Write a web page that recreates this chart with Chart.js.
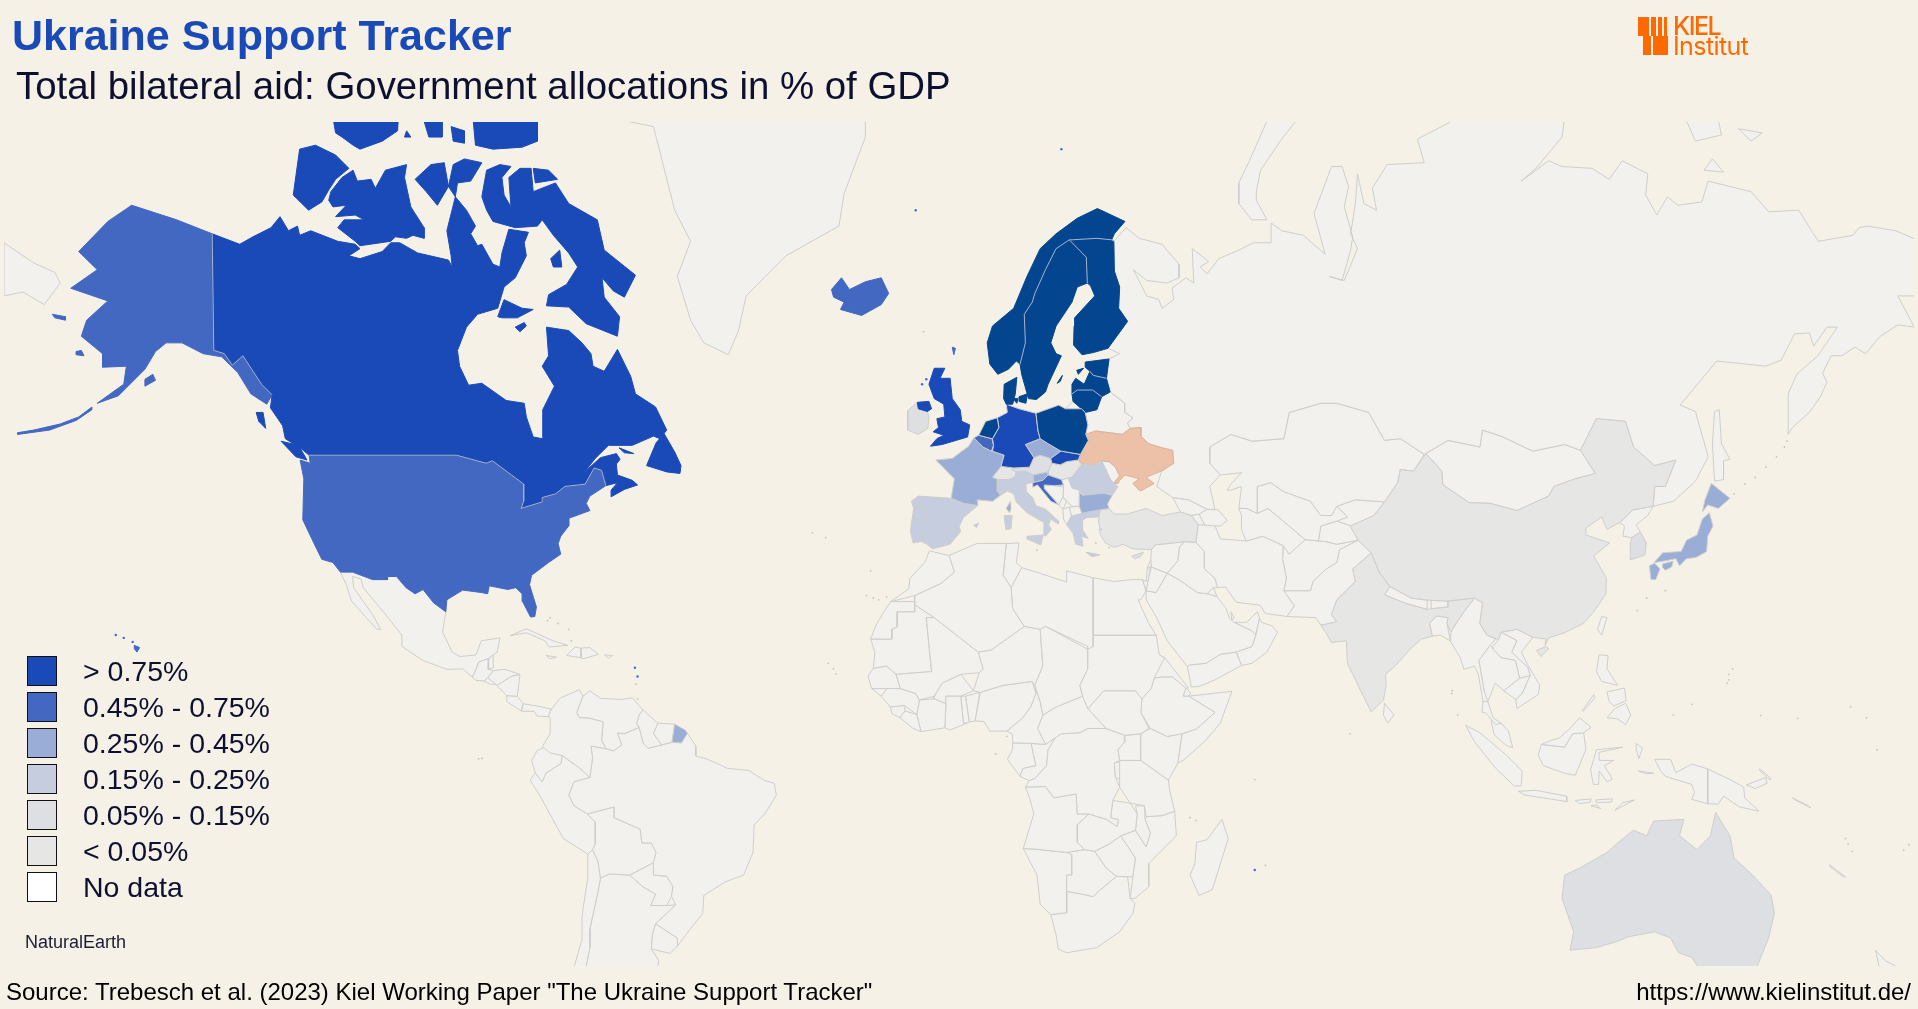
<!DOCTYPE html>
<html>
<head>
<meta charset="utf-8">
<title>Ukraine Support Tracker</title>
<script src="https://cdn.jsdelivr.net/npm/chart.js@4"></script>
<style>
  html, body { margin: 0; padding: 0; background: #f5f1e7; overflow: hidden; }
  #page { position: relative; width: 1918px; height: 1009px; font-family: "Liberation Sans", Arial, sans-serif; color: #0e1030; }
  #page div, #page span { position: absolute; white-space: nowrap; }
  canvas { position: absolute; left: 0; top: 0; }
  .swatch { width: 28px; height: 28px; border: 1px solid #111; box-sizing: content-box; }
  .bar { background: #ff6a00; }
</style>
</head>
<body>
<div id="page">
  <canvas id="map" width="1918" height="1009"></canvas>
  <div style="left:12px;top:11px;font-size:43px;font-weight:bold;color:#1a4ab8">Ukraine Support Tracker</div>
  <div style="left:16px:top:64px;left:16px;top:64px;font-size:38.4px;color:#0e1030">Total bilateral aid: Government allocations in % of GDP</div>
  <div class="bar" style="left:1638px;top:17px;width:11px;height:19px"></div>
  <div class="bar" style="left:1651px;top:17px;width:5px;height:19px"></div>
  <div class="bar" style="left:1658px;top:17px;width:4px;height:19px"></div>
  <div class="bar" style="left:1664px;top:17px;width:3px;height:19px"></div>
  <div class="bar" style="left:1643px;top:36px;width:8px;height:19px"></div>
  <div class="bar" style="left:1653px;top:36px;width:15px;height:19px"></div>
  <div style="left:1673px;top:12px;font:500 25px/28px Inter,sans-serif;letter-spacing:-1.5px;color:#ff6a00">KIEL</div>
  <div style="left:1673px;top:32px;font:400 25px/28px Inter,sans-serif;letter-spacing:-0.6px;color:#ff6a00">Institut</div>
  <div id="legend"></div>
  <div style="left:25px;top:932px;font-size:18px;color:#1c1c34">NaturalEarth</div>
  <div style="left:6px;top:978px;font-size:24px;color:#000">Source: Trebesch et al. (2023) Kiel Working Paper "The Ukraine Support Tracker"</div>
  <div style="right:7px;top:978px;font-size:24px;color:#000">https://www.kielinstitut.de/</div>
</div>
<script>
// legend classes
const binLabels = ["> 0.75%", "0.45% - 0.75%", "0.25% - 0.45%", "0.15% - 0.25%", "0.05% - 0.15%", "< 0.05%", "No data"];
const binColors = ["#1a4ab8", "#4268c2", "#9aadd6", "#c5cddf", "#dddfe3", "#e6e6e4", "#ffffff"];
const topShade = "#03468f";
const ukraineShade = "#edc0a8";
const landShade = "#f2f1ed";
const edgeGrey = "#cdcdcb";

// country outlines, lon,lat pairs
const canadaMain = [-141.3,69.5,-136.1,68.8,-133.6,69.3,-130.2,69.9,-128.5,70.6,-126.9,69.7,-125.2,70,-124.8,69.4,-122.7,69.7,-117.6,69,-114.3,68.8,-113.4,68.5,-115.5,68,-113.4,67.8,-109.2,68.3,-107.6,68.9,-105.9,68.9,-102.5,68.2,-96.7,67.7,-96,67.2,-96.2,68,-97,69.7,-95.4,71.8,-93.3,71,-91.6,70,-92.5,69.5,-91.2,68.7,-90.4,68.8,-88.3,67.4,-87,67.2,-86.6,68.2,-85.3,69.8,-81.6,69.6,-82.4,68.9,-82,68,-84.1,66.4,-86.2,65.7,-87.4,64,-91.2,63.5,-93.3,62.4,-95,60.3,-94.6,58.8,-92.9,56.9,-90.4,57.1,-85.8,55.3,-82.4,55,-82,53.5,-80.7,51.2,-79,51,-78.9,54.3,-76.7,56.8,-79,58.8,-77.8,59.8,-78.2,62.4,-74,62.1,-71.5,61,-69.8,60,-69.4,58.8,-67.3,58.3,-64.8,60.4,-62.3,57.8,-61.4,56,-57.6,54.6,-55.5,52,-56.8,51,-58,51.3,-62,50.2,-66.5,50.2,-69,48.6,-71,46.9,-68,48.7,-65,49.2,-64.3,48.5,-65,47.9,-64.8,46.5,-62,45.8,-61,45.2,-63.5,44.6,-66,43.6,-66,44.5,-64.8,45.5,-67,45.1,-67.8,47.1,-69.2,47.4,-70.9,45.3,-74.7,45,-76.5,44,-79,43.5,-79,42.9,-83,42,-82.5,43,-82.5,45.3,-84.8,46.5,-88.4,48.3,-89.6,48,-95.2,49,-123,49,-124.5,49.8,-127.5,51,-128,52.5,-130.3,54.5,-130,55.9,-132,57,-135.5,59.8,-137.5,58.9,-139,60,-141,60.3];
const baffin = [-89.5,71,-88.3,70.3,-84.1,69.9,-79.9,70,-79,70.4,-76.9,69.4,-74,68.2,-72.3,67.2,-74.4,65.9,-77.8,65.1,-78.2,64.2,-74,64.1,-70.7,62.7,-64.8,61.6,-64.4,63.3,-67.3,64.9,-67.7,66.4,-65.6,65.4,-63.5,64.9,-61.4,66.6,-67.3,68.4,-68.6,70.4,-74,71.4,-76.5,72.6,-80.7,72.1,-81.1,73.4,-83.2,73.4,-85.3,72.9,-84.9,71.2,-86.2,71.9,-86.6,72.9,-84.9,73.5,-87,73.6,-89.5,73.3,-90.4,71.8];
const bylot = [-80.7,73.4,-77.8,73.3,-76.1,72.8,-80.3,72.6];
const princeCharles = [-77.4,67.8,-75.7,68.4,-75.3,67.2,-76.9,67.2];
const victoria = [-119.3,71.6,-118.9,72.1,-116.8,72.9,-114.7,73.3,-113.9,72.7,-111.3,72.8,-110.5,72.3,-108.6,73.3,-104.6,73.6,-105,72.9,-103.8,71.2,-101.3,69.9,-101.3,69.2,-103.4,69.4,-104.6,69.2,-106.7,69.3,-107.6,69,-113.4,68.7,-114.3,69,-117.6,69.9,-116.4,70.4,-112.6,70.4,-114.3,70.7,-118,70.6,-116,71.3,-118.5,71.2];
const banks = [-124.8,74.4,-121.8,74.6,-118,74.1,-115.5,73.4,-118,72.8,-119.3,72.2,-120.6,71.5,-123.1,71,-126,71.9];
const melville = [-119.3,77,-105.9,77,-106.3,75.3,-109.2,74.8,-113.4,74.4,-114.7,74.6,-116.8,75,-118,75.2];
const byam = [-104.6,75.3,-103.8,75,-105,75];
const bathurst = [-102.9,77,-97.9,77,-97.9,75,-100.4,75];
const cornwallis = [-96.2,75.5,-93.7,75.3,-93.7,74.7,-95.8,74.8];
const devon = [-92.5,77,-79.9,77,-79.9,74.8,-82.8,74.5,-88.3,74.4,-91.6,74.6];
const princeWales = [-103,72.8,-100,73.6,-97.5,73.7,-96.7,72.4,-98.8,71.3,-100.9,72.1];
const somerset = [-95.8,73.6,-93.7,73.9,-90.4,73.7,-92.5,72.7,-95,72.6,-95.4,71.8,-96.7,72.4];
const southampton = [-87.4,63.3,-86.2,64.7,-82.8,64,-80.7,63.9,-83.7,63.2,-86.6,63.2];
const coats = [-84.1,62.4,-82.4,62.8,-82,62.5,-83.2,62];
const newfoundland = [-59.3,47.7,-55.5,46.9,-53,46.7,-52.8,47.7,-54,49.4,-56,51.6,-57.5,50.5];
const vancouverIs = [-128.3,50.7,-125,50.2,-123.4,48.4,-125.5,48.8];
const haida = [-133,54,-131.7,54,-131.2,52.2,-132.5,53];
const anticosti = [-64.5,49.9,-61.7,49.2,-63.5,49.3];
const lower48 = [-123,49,-95.2,49,-89.6,48,-88.4,48.3,-84.8,46.5,-82.5,45.3,-82.5,43,-83,42,-79,42.9,-79,43.5,-76.5,44,-74.7,45,-70.9,45.3,-69.2,47.4,-67.8,47.1,-67,45.1,-70,43.7,-70.7,42.7,-70,41.7,-74,40.6,-74,39.5,-75.5,38,-76,36.9,-75.5,35.3,-77.8,34,-81,32,-81.4,30.5,-80.1,26.8,-80.4,25.2,-81.2,25.1,-82.7,27.7,-82.8,29,-84,30,-85.5,29.7,-89,30.3,-89.3,29,-90.5,29.2,-94,29.6,-97,28,-97.2,26,-99.5,27.5,-101.5,29.7,-103,29,-104.7,30,-106.5,31.8,-108.2,31.8,-108.2,31.3,-111,31.3,-114.8,32.5,-117.1,32.5,-118.5,34,-120.6,34.5,-122,36.8,-124.2,40.4,-124,46,-124.7,48.4,-122.8,48];
const alaska = [-141.3,69.5,-148,70.4,-156.5,71.3,-161,70.3,-166.5,68.3,-163,67,-168,65.6,-161,64.6,-165,63,-166,61.6,-162,60,-162,58.7,-157.5,58.8,-158,57,-163,55,-159,55.8,-154,58.5,-152,60.2,-150,61,-147,61,-143,60,-139.5,59.7,-136.5,58.2,-134,56,-131,54.9,-130,55.9,-132,57,-135.5,59.8,-137.5,58.9,-139,60,-141,60.3];
const aleutians = [-164,54.6,-166.5,53.5,-170,52.7,-175,52,-178,51.7,-178,51.5,-172,52,-167,53.1,-164,54.3];
const kodiak = [-154,57.5,-152.5,58,-152,57.4,-154,56.8];
const stLawrence = [-171.5,63.5,-169,63.3,-169,63,-171,63.2];
const nunivak = [-167,60.2,-166,60.3,-165.5,59.8,-167,59.9];
const hawaii = [-156,20.2,-155,19.8,-155.5,19,-156,19.6];
const mexico = [-117.1,32.5,-114.8,32.5,-111,31.3,-108.2,31.3,-108.2,31.8,-106.5,31.8,-104.7,30,-103,29,-101.5,29.7,-99.5,27.5,-97.2,26,-97.8,22.5,-96,19,-94.5,18.2,-91.5,18.5,-90.5,21,-87,21.5,-87.5,19,-88.3,18.5,-89.1,17.9,-91,17.2,-91.5,16,-92.2,14.5,-94,16,-97,15.9,-101.5,17.5,-105.5,20,-105.5,22,-109,26,-112.8,30,-113.2,31.4,-114.8,31.8,-114.6,30,-111,25.5,-109.5,23,-110.2,23,-112.2,25,-115,27.8,-116,30.5];
const guatemala = [-92.2,14.5,-91.5,16,-91,17.2,-89.1,17.9,-89.2,15.9,-88.2,15.7,-89.3,14.4,-90,13.8,-91.5,13.9];
const belize = [-89.1,17.9,-88.3,18.5,-88.2,16.2,-89.2,15.9];
const honduras = [-88.2,15.7,-86,15.9,-83.2,15,-84.7,14.7,-87.5,13,-89.3,14.4];
const salvador = [-90,13.8,-89.3,14.4,-87.7,13.9,-87.8,13.2,-88.8,13.2];
const nicaragua = [-83.2,15,-83.7,11,-85.7,11.1,-87.6,13,-84.7,14.7];
const costaRica = [-83.7,11,-82.6,9.6,-83,8.3,-85.7,10,-85.7,11.1];
const panama = [-82.9,8.2,-82.6,9.6,-80,9.2,-77.3,8.6,-77.9,7.2,-80,7.3,-80.5,8.2];
const cuba = [-85,21.9,-82,23.1,-77,21,-74.2,20.2,-77.7,19.9,-78.5,21,-82,22.4];
const haiti = [-74.4,18.4,-72.8,19.9,-71.7,19.7,-71.7,18,-73,18.2];
const dominicana = [-71.7,19.7,-70,19.8,-68.4,18.6,-71.3,17.8,-71.7,18];
const jamaica = [-78.3,18.4,-76.3,18.1,-77.5,17.8];
const puertoRico = [-67.2,18.5,-65.7,18.4,-66.5,17.9];
const colombia = [-77.3,8.6,-75.5,10.7,-72,12.2,-71.3,11,-72.5,8,-72,7,-70,6.9,-67.5,6.2,-67.8,2.8,-67,1.2,-69.8,1.7,-69.5,-0.5,-70,-4.2,-72,-2.4,-75.2,-0.1,-77.5,0.4,-79,1.6,-77.5,4,-77.5,7,-77.9,7.2];
const venezuela = [-71.3,11,-70,12,-68,10.6,-64,10.4,-62,10.7,-60,8.5,-60.7,7.5,-61.2,5.9,-60.7,5.2,-63.5,4,-64.8,4.2,-64,1.9,-65.5,0.8,-67,1.2,-67.8,2.8,-67.5,6.2,-70,6.9,-72,7,-72.5,8];
const guyana = [-60,8.5,-57.2,6,-58,4,-56.5,1.9,-59,1.3,-59.9,2.2,-60.7,5.2,-61.2,5.9,-60.7,7.5];
const suriname = [-57.2,6,-54,5.8,-54.5,2.4,-56.5,1.9,-58,4];
const frenchGuiana = [-54,5.8,-52,4.7,-51.6,4.1,-52.7,2.3,-54.5,2.4];
const ecuador = [-78.8,1.4,-75.2,-0.1,-75.5,-1.6,-78.3,-3.4,-79,-5,-80.3,-3.4,-81,-1,-80,0.8];
const peru = [-81.3,-4.7,-80.3,-3.4,-79,-5,-78.3,-3.4,-75.5,-1.6,-75.2,-0.1,-72,-2.4,-70,-4.2,-73,-5,-74,-7.5,-73,-9.5,-70.5,-11,-69,-12.5,-69,-16.5,-69.5,-17.5,-70.4,-18.3,-75,-15.5,-77,-12,-79.5,-7.5];
const brazil = [-51.6,4.1,-50,1.7,-50,-0.2,-48,-0.7,-44,-2.5,-40,-2.9,-37,-4.8,-35.2,-5.3,-34.8,-7.5,-37,-11,-39,-13,-39.2,-18,-41,-22,-44.5,-23.2,-48.5,-25.5,-48.7,-28.5,-52,-32.1,-53.4,-33.7,-53.5,-32.5,-57.6,-30.2,-53.8,-27.1,-54.6,-25.6,-54.3,-24,-55.5,-22.2,-58,-22,-58,-19.8,-57.5,-18,-58.4,-16.3,-60.2,-16.3,-60.5,-13.8,-65.4,-11.7,-65.4,-9.7,-70.5,-11,-73,-9.5,-74,-7.5,-73,-5,-70,-4.2,-69.5,-0.5,-69.8,1.7,-67,1.2,-65.5,0.8,-64,1.9,-64.8,4.2,-63.5,4,-60.7,5.2,-59.9,2.2,-59,1.3,-56.5,1.9,-54.5,2.4,-52.7,2.3];
const bolivia = [-69.5,-17.5,-69,-16.5,-69,-12.5,-70.5,-11,-65.4,-9.7,-65.4,-11.7,-60.5,-13.8,-60.2,-16.3,-58.4,-16.3,-57.5,-18,-58,-19.8,-62.5,-22,-66.3,-21.8,-68,-22.5,-68.5,-19.5];
const paraguay = [-58,-19.8,-58,-22,-55.5,-22.2,-54.3,-24,-54.6,-25.6,-55.5,-27.2,-58.5,-27.2,-57.6,-25.3,-60,-24,-62.5,-22];
const uruguay = [-57.6,-30.2,-53.5,-32.5,-53.4,-33.7,-54.9,-34.9,-58.4,-34.2,-58.2,-32];
const chile = [-70.4,-18.3,-69.5,-17.5,-68.5,-19.5,-68,-22.5,-68.5,-25,-70,-31,-70,-34,-71,-38,-74,-38,-73,-37,-71.6,-33,-71.5,-29,-70.5,-23];
const argentina = [-68,-22.5,-66.3,-21.8,-62.5,-22,-60,-24,-57.6,-25.3,-58.5,-27.2,-55.5,-27.2,-53.8,-27.1,-57.6,-30.2,-58.2,-32,-58.4,-34.2,-57,-36,-57.5,-38,-71,-38,-70,-34,-70,-31,-68.5,-25];
const greenland = [-73,80,-68,76,-58,75.5,-54,71,-51,69,-53.5,66.5,-51,63,-48.5,61,-43.9,59.9,-42,62,-40.5,65,-33,68,-23,70,-22,72,-18,75,-18,80];
const iceland = [-24.4,65.5,-22.5,66.4,-21,65.5,-18,66.1,-15,66.4,-13.6,65.2,-15,64.3,-18.7,63.4,-22.7,63.9,-22,64.5,-24,64.9];
const britain = [-5.7,50.1,-3.5,50.3,1.3,51.2,1.7,52.6,0.2,53,-0.1,54.3,-1.6,55.5,-2,57.6,-3.9,57.6,-3,58.6,-5,58.6,-6,57,-5,55.5,-3.2,54.9,-3,53.5,-4.5,53.3,-4.2,52.3,-5.2,51.8,-3.2,51.4,-4.5,51];
const ulster = [-8.2,55.1,-6,55.2,-5.5,54.4,-6.3,54.1,-8,54.4];
const shetland = [-1.6,60.6,-1,60.5,-1.3,59.9];
const ireland = [-10,52,-8,51.5,-6.2,52.2,-6,53.5,-6.3,54.1,-8,54.4,-8.2,55.1,-10,54.2];
const france = [-1.8,43.4,-1.2,46,-4.7,48.4,-1.6,48.6,1.5,50.1,2.5,51.1,4.2,50,5.8,49.5,6,49.5,8.2,49,7.6,47.6,6,46.2,7,45.9,6.9,44.4,7.5,43.8,6,43,3.1,43.2,3.2,42.4,0.7,42.7];
const corsica = [9.4,43,9.5,42,9.2,41.4,8.6,42];
const spain = [-9.3,43,-8,43.7,-1.8,43.4,0.7,42.7,3.2,42.4,0.5,40.7,-0.3,39.4,0,38.7,-2,36.8,-5.3,36.1,-6.4,36.8,-7.4,37.2,-7,39.6,-6.4,41.7,-8.2,42.1,-8.9,42];
const mallorca = [2.4,39.6,3.4,39.9,3,39.3];
const portugal = [-8.9,42,-8.2,42.1,-6.4,41.7,-7,39.6,-7.4,37.2,-9,37,-9.5,38.8];
const belgium = [2.5,51.1,3.4,51.4,5.9,51,6.2,50.2,5.8,49.5,4.2,50];
const netherlands = [3.4,51.4,4.7,53,6.9,53.4,7.2,52.3,6,51,5.9,51];
const germany = [6,51,7.2,52.3,6.9,53.4,8.8,54,8.6,54.9,11,54.4,14.2,53.9,14.6,51.9,15,51,12.2,50.3,13.8,48.7,13,47.5,10,47.4,7.6,47.6,8.2,49,6,49.5,6.2,50.2];
const jutland = [8.1,55.5,8.2,57,10.6,57.7,10.3,56,9.8,54.9,8.6,54.9];
const zealand = [11,55.7,12.6,56,12.3,55,11,55.2];
const funen = [9.8,55.5,10.8,55.5,10.6,55];
const norway = [7,58,5.5,59,5,61,6,62.5,10,64,12.5,66.5,15,68.5,18,69.5,22,70.5,25.8,71.1,31,70.3,29,69.5,28.5,69.1,25.7,69.2,21,69.1,20.5,69.1,18,68.5,16,67,14,65.2,13.5,64.5,12,63.5,12.2,61,11.2,59,10.5,59.3,9,58.5];
const sweden = [11.2,59,12.2,61,12,63.5,13.5,64.5,14,65.2,16,67,18,68.5,20.5,69.1,23.7,67.9,23.9,66,22,65.7,21,64.5,18,62.5,17,61,18,60,19,59.8,16.5,57,16,56.2,14.3,55.4,12.8,55.5,11.5,58];
const gotland = [18.2,57.1,19.2,57.9,18.8,57.3];
const finland = [20.5,69.1,21,69.1,25.7,69.2,28.5,69.1,28.9,69,29,66.9,30,65.7,29.8,64,31.5,62.9,27.8,60.5,25,60.1,22.9,59.9,21.3,60.8,21.4,62.5,21.5,63.2,25.3,65,24.5,65.8,23.9,66,23.7,67.9];
const estonia = [23.5,59.2,28,59.5,27.5,57.6,25,57.9,24.4,58.3,23.5,58.7];
const saaremaa = [21.9,58.4,23.2,58.6,22.2,58];
const latvia = [21,57,21.7,57.6,23.3,57,24.4,58.3,25,57.9,27.5,57.6,28.2,56.2,26.6,55.7,24.9,56.4,22,56.4,21,56];
const lithuania = [21,56,22,56.4,24.9,56.4,26.6,55.7,25.7,54.3,23.5,54,22.8,54.4,21.2,55.2];
const poland = [14.2,53.9,18.5,54.8,19.8,54.4,22.8,54.4,23.5,54,24,52.6,23.6,51.5,24.1,50.8,22.6,49.1,19,49.5,18.9,49.5,16.5,50.4,15,51,14.6,51.9];
const czechia = [12.2,50.3,15,51,16.5,50.4,18.9,49.5,17,48.6,15,49,13.8,48.7];
const slovakia = [17,48.6,18.9,49.5,19,49.5,22.6,49.1,22.2,48.4,20,48.2,18.8,47.8,17.2,48];
const austria = [10,47.4,13,47.5,13.8,48.7,15,49,17,48.6,17.2,48,16.5,46.9,13.7,46.5,12.2,47,10.5,46.9,9.6,47.2];
const switzerland = [7.6,47.6,9.6,47.5,10.5,46.9,10.2,46.2,9,45.9,7,45.9,6,46.2];
const italy = [7,45.9,9,45.9,10.2,46.2,10.5,46.9,12.2,47,13.7,46.5,13.8,45.6,12.3,45.3,12.4,44.3,13.6,43.5,14.2,42.4,16,41.9,18.5,40.2,18.4,39.8,17,40.5,16.6,39.7,17.1,39,16,38,15.7,38.2,15.7,40,12.5,41.4,10.5,42.9,10,44,8.8,44.4,7.5,43.8,6.9,44.4];
const sicily = [12.5,38,15.6,38.2,15.1,36.7,12.5,37.6];
const sardinia = [8.2,41,9.7,41,9.5,39.1,8.5,39];
const slovenia = [13.7,46.5,16.5,46.9,16.5,46.5,15.5,45.8,13.6,45.5,13.8,45.6];
const croatia = [13.6,45.5,15.5,45.8,16.5,46.5,19,45.9,19.4,45.2,17.7,45.1,15.8,45.2,15.8,44.7,18.5,42.5,17,43,14.5,45.2,13.6,44.9];
const hungary = [16.5,46.9,17.2,48,18.8,47.8,20,48.2,22.2,48.4,22.9,47.9,21,46.2,19,45.9,16.5,46.5];
const romania = [22.9,47.9,24.9,47.7,26.6,48.3,28.2,46,28.9,45.4,29.7,45,28.6,43.8,27,44.1,23,43.8,22.5,44.5,21,44.8,20.3,46.1,21,46.2];
const bulgaria = [22.4,44.2,23,43.8,27,44.1,28.6,43.8,27.7,42.6,28,42,26.3,41.8,24,41.5,22.9,41.3,22.4,42.3];
const moldova = [26.6,48.3,28,48.2,29.2,47.5,30,46.4,28.9,45.4,28.2,46];
const ukraine = [22.2,48.4,22.6,49.1,24.1,50.8,23.6,51.5,25.5,51.9,30.5,51.5,32,52.2,34,52.3,34,51.3,35.5,50.4,38,49.9,40,49.6,40.2,48,38.2,47.1,35,46.2,36.5,45.4,35.5,45,34,44.4,33.5,44.6,32.5,45.4,33.7,46,31,46.5,30,45.8,29.7,45.4,28.9,45.4,30,46.4,29.2,47.5,28,48.2,26.6,48.3,24.9,47.7,22.9,47.9];
const belarus = [23.6,51.5,24,52.6,23.5,54,25.7,54.3,26.6,55.7,28.2,56.2,31,55,31,54,32.5,53.4,31.5,52.8,32,52.2,30.5,51.5,25.5,51.9];
const bosnia = [15.8,45.2,17.7,45.1,19.4,44.9,19.3,43.6,18.5,42.5,15.8,44.7];
const serbia = [19,45.9,20.3,46.1,21,44.8,22.5,44.5,22.4,42.3,21,42.3,20,43,19.3,43.6,19.4,45.2];
const montenegro = [18.5,42.5,19.3,43.6,20,43,19.3,41.9];
const albania = [19.3,41.9,20.5,42.2,20.9,40.9,20,39.7,19.4,40.5];
const macedonia = [20.5,42.2,22.4,42.3,22.9,41.3,20.9,40.9];
const greece = [20,39.7,20.9,40.9,22.9,41.3,24,41.5,26.3,41.8,26,40.8,23.8,40.7,22.9,40.3,23,39,24,37.7,22.8,38,23.1,36.5,21.7,36.8,21.2,38.4];
const crete = [23.6,35.6,26.3,35.2,24.8,34.9];
const turkey = [26,40.2,26.3,41.8,28,42,29,41.2,31.4,41.2,35,42,38,41,41.5,41.5,43.5,41,44.8,39.7,44.4,37.1,42.3,37.2,36.7,36.7,36,36,32.5,36.1,30.6,36.8,29,36.3,27.3,37,26.3,38.3,26.2,39.5];
const cyprus = [32.3,35,34.5,35.6,33.9,34.9,32.8,34.6];
const russia = [28,59.5,30,60,27.8,60.5,31.5,62.9,29.8,64,30,65.7,29,66.9,28.9,69,31.2,69.9,33.7,69.2,38,68.8,41.2,67.4,41.2,66.4,38.9,66,35.1,66.2,32.6,67,35.1,65,37.4,64.7,38,64,40.2,64.7,39.9,65.6,42.5,66.4,44,66,43.7,68.5,46.8,67.6,45.2,67.2,46.5,66.7,48.7,67.8,52.5,68.4,55.3,68.9,58.6,68.9,58.6,70.2,60.6,69.7,64.7,69.4,68.8,68.1,66.7,70.8,70,73.5,72,73.5,73.2,72.4,72.4,71.2,74,69.3,73.6,68.4,72,66.2,69.6,66.5,72.4,66.2,74.9,68.5,73.6,69.5,74.5,71.4,74.9,73.1,76.1,71.4,78.5,71,77.7,72.3,80.5,73.6,87.5,73.7,86.2,74.9,92.3,75.7,92,78,114,78,113.9,75.7,113.5,75,108.6,73.4,105.8,72.7,111,73.8,113.5,73.5,119.2,73.4,122.4,72.8,124.9,73.8,129.7,73.1,129.3,71.9,131.4,70.7,133.4,71.8,135.4,71.3,139.9,71.5,141.1,72.7,149.2,72.1,152.5,70.9,158.2,71,160.6,69.7,161.9,69,168.4,69.4,169.6,69.9,171.2,70,176.5,69.7,180.5,69.1,180.5,65,176.9,65,180,62.4,176.9,62.6,173.6,61.6,170.8,60,168.8,60.6,166.3,59.8,164.3,59.8,162.7,58.1,163.5,57.2,162.3,55.7,160.2,54,157,52.3,156.2,51.5,156.2,56,157.8,58,161.8,59.8,165.5,62.4,163.5,62.4,161,60.7,160.2,61.9,157.4,61.8,154.9,59.4,152,58.8,142.7,59.3,135.8,54.8,138.7,54.1,141.1,48.8,138.7,45.7,134.6,43,131.8,42.5,130.7,42.3,131,45,133,45,135,48.4,131,47.7,127,50,125.5,53,120,53.3,117,49.6,114,50.3,108,49.5,102,51.3,98.5,52,98,50,92,50.8,87.5,49.1,83,51,80,50.8,77,54,71,55,68,55,62,54,61,51,55,50.7,51,51.5,47,50,47,48,49,46.5,47,45,47.5,43.5,48,41.8,46.5,41.9,43,43.2,40,43.5,37,45,38,47.1,40.2,48,40,49.6,38,49.9,35.5,50.4,34,51.3,34,52.3,32,52.2,31.5,52.8,32.5,53.4,31,54,31,55,28.2,56.2,27.5,57.6];
const chukotka = [-180.6,68.9,-175,67.5,-171,66.8,-170,66,-173,64.3,-177,65.3,-180.6,65];
const kaliningrad = [19.8,54.4,22.8,54.4,21.2,55.2];
const sakhalin = [142.3,54.1,143.2,54.3,143.6,50.4,145.2,48.5,144,48.3,144,45.9,142.3,45.7,141.9,50.4];
const novayaZemlya = [52.5,71.4,54.9,70.4,57.8,70.4,55.8,71.6,55.8,72.1,56.6,73.3,60.6,74.9,64.7,76.2,58.6,76.2,54.5,73.8,52.5,72.6];
const kotelny = [136.2,76.2,138.7,74.8,143.6,75.1,142.7,76.2];
const faddeyev = [146.8,75.4,149.2,74.8,151.3,75.2];
const lyakhov = [140.3,73.3,141.9,73.9,144,73.2];
const kazakhstan = [47,50,51,51.5,55,50.7,61,51,62,54,68,55,71,55,77,54,80,50.8,83,51,87.5,49.1,85.5,47,83,47.2,82.5,45.5,80,42.9,74.5,43.2,71,42.3,70,41,68,41,66,43,61,44.3,58.5,45.5,56,45,56,41.3,54,42,52.5,42,53,45,51,44.5,50.3,44.5,51,45.3,53,46.8,49,46.5,47,48];
const uzbekistan = [56,45,58.5,45.5,61,44.3,66,43,68,41,70,41,71,42.3,73,40.8,71,40.2,68,39.5,67.5,37.3,65,37.5,62,39.5,58,42,56,41.3];
const turkmenistan = [52.5,42,54,42,56,41.3,58,42,62,39.5,65,37.5,62,35.3,60.9,36.6,57,38,53.9,37.3,53,39,53,41];
const kyrgyzstan = [71,42.3,74.5,43.2,80,42.9,78,41,73.8,39.5,71,40.2,73,40.8];
const tajikistan = [68,39.5,71,40.2,73.8,39.5,75,37.4,71,36.8,69,37.2,67.5,37.3];
const afghanistan = [60.9,36.6,62,35.3,65,37.5,67.5,37.3,69,37.2,71,36.8,75,37.4,71.5,36,71,34,69,33,66.5,31,66,29.5,61,29.5,61.5,31.5,60.8,34.5];
const pakistan = [61,29.5,66,29.5,66.5,31,69,33,71,34,71.5,36,75,37.4,77.5,35.5,74,33,74.5,31,71,28,70,25.5,71,24.3,68,23.7,67,25,61.6,25.2,63,27];
const iran = [44.8,39.7,48,39.5,49,37.6,53.9,37.3,57,38,60.9,36.6,60.8,34.5,61.5,31.5,61,29.5,63,27,61.6,25.2,57.5,25.7,56.5,27.1,52,27.6,50,30.1,48.5,30,48,31.5,46,33,46,35.7,44.4,37.1];
const iraq = [42.3,37.2,44.4,37.1,46,35.7,46,33,48,31.5,48.5,30,47.7,30,46.5,29,44.7,29.2,41,31.4,39,32.3,41,34.3,41.3,36.4];
const syria = [36,36,36.7,36.7,42.3,37.2,41.3,36.4,41,34.3,39,32.3,36,33.3,35.9,34.7];
const israel = [35,31,34.3,31.3,35,29.5,35.5,31.8,35.8,33.3,35.2,33];
const jordan = [35,29.5,36.9,29.2,39,32.3,36,33.3,35.5,31.8];
const lebanon = [35.2,33.1,35.8,33.3,36.6,34.2,36,34.7];
const saudi = [35,29.5,36.9,29.2,39,32.3,41,31.4,44.7,29.2,46.5,29,48.4,28.5,50,26.7,50.8,24.8,51.6,24.2,55,22.7,55.7,22,55,20,52,19,49,18.6,46.3,17,43.2,16.7,42.8,16.4,39,21,37,25,35,28];
const yemen = [42.8,16.4,43.2,16.7,46.3,17,49,18.6,52,19,53,16.6,48,14,45,12.8,43.5,12.7,43.2,14.5];
const oman = [52,19,55,20,55.7,22,56.4,24.9,56.8,24.2,58.7,23.6,59.8,22.5,57.8,19,55,17,53,16.6];
const emirates = [51.6,24.2,54,24.2,56,26,56.4,24.9,55.7,22,55,22.7];
const kuwait = [47.7,30,48.4,28.5,46.5,29];
const qatar = [51,26,51.6,25,51.2,24.5];
const georgiaState = [40,43.5,43,43.2,46.5,41.9,45,41.2,43.5,41,41.5,41.5];
const azerbaijan = [45,41.2,46.5,41.9,48.6,41.8,50.3,40.3,49,39.5,48,39.5,46.5,39];
const armenia = [43.5,41,45,41.2,46.5,39,44.8,39.7];
const mongolia = [87.8,49.2,92,50.8,98,50,98.5,52,102,51.3,108,49.5,114,50.3,117,49.6,119.8,46.7,116,46,112,45,111,43.7,105,41.7,100,42.7,96,42.8,91,45.2,90.8,47];
const china = [73.5,39.5,75,37.4,77.5,35.5,79,32.5,81,30.2,85,28.3,88.8,27.9,92,27.8,97,28.3,98.5,27.5,98,24,99.3,22,101.5,21.2,102,22.5,105,23,108,21.6,110.5,21.3,110.3,20.2,111,21.5,114,22.4,117.5,24,119.5,26,121.8,29,121.9,31.5,119.5,35,122.5,37,118,38.2,118,39.2,121,40.8,122,39,124.4,40,126.9,41.8,130.7,42.3,131,45,133,45,135,48.4,131,47.7,127,50,125.5,53,120,53.3,117,49.6,119.8,46.7,116,46,112,45,111,43.7,105,41.7,100,42.7,96,42.8,91,45.2,90.8,47,87.8,49.2,85.5,47,83,47.2,82.5,45.5,80,42.9,78,41];
const hainan = [108.7,19.3,110.5,20,111,19.6,109.5,18.2];
const india = [68,23.7,71,24.3,70,25.5,71,28,74.5,31,74,33,77.5,35.5,79,32.5,81,30.2,80,28.8,84,27.4,88,26.4,88.8,26.5,92,26.8,92,27.8,97,28.3,95,26,93.5,24,92.5,22.5,91.8,24,92,25,89.8,25.3,88.5,24,89,21.8,87,21.3,85,19.7,82,16.5,80.2,15,80.3,13,79.8,10.3,77.5,8.1,76,11,73,17,72.8,21,70,20.7,69,22.3];
const nepal = [80,28.8,81,30.2,85,28.3,88.1,27.9,88,26.4,84,27.4];
const bangladesh = [88.5,24,89.8,25.3,92,25,91.8,24,92.4,21,90.5,22,89,21.8];
const bhutan = [88.8,27.9,92,27.8,92,26.8,88.8,26.5];
const sriLanka = [80,9.7,81.8,7.5,80.6,6,79.8,7.5];
const myanmar = [97,28.3,98.5,27.5,98,24,99.3,22,101,21.3,100,20.3,97.8,17.5,98.8,12,99.5,10,98.6,10,97.7,15,97,16.5,95,15.9,94.3,18,92.4,21,92.5,22.5,93.5,24,95,26];
const thailand = [100,20.3,100.5,19.5,102,18,104.7,17.5,105.5,14.3,102.5,12,102.9,11.7,100.9,13.4,99.5,10,100.5,7,102,6,101,5.7,99,8,98.4,8,98.8,12,97.8,17.5];
const laos = [100.5,20,101.5,21.2,102,22.5,105,21,104,19,107,16.3,107.5,14.8,105.5,14.3,104.7,17.5,102,18,100.5,19.5];
const vietnam = [102,22.5,105,23,108,21.6,105.8,19,107,16.8,109.3,13,109,11.3,105,8.7,104.8,10.4,106,11.5,107.5,14.8,107,16.3,104,19,105,21];
const cambodia = [102.5,12,105.5,14.3,107.5,14.8,106,11.5,104.8,10.4,102.9,11.7];
const malaya = [100.5,6.5,102,6,103.4,4.5,104.2,1.4,103,1.8,100.7,3.8,100.1,6.5];
const sabah = [109.6,2,111.3,2.7,113,3.2,115,5,116.8,7,119,5.2,117.6,4.2,115.5,4,114,1.5];
const kalimantan = [109.6,2,114,1.5,115.5,4,117.6,4.2,118,1,116,-3.8,114,-3.4,110,-2,109,0];
const sumatra = [95.3,5.6,98,4.2,103,0,106,-3,105.8,-5.8,104.5,-5.8,101,-2.5,97,2.5];
const java = [105.3,-6.8,108.5,-6.6,114.4,-7.7,114.4,-8.7,106.5,-7.5];
const sulawesi = [119.4,-5.5,120.4,-5.5,120.5,-3,122,-5,123,-4.5,121.5,-2,123.3,-1,120.5,-1,120.5,0.5,125,1.5,120,1,119.5,-0.8,118.9,-2.7];
const papuaWest = [131,-0.8,134,-0.8,135,-3.3,138,-1.7,141,-2.6,141,-9.1,138,-8.3,138.5,-7,138,-5.5,133,-4,132,-2.8];
const papuaNewGuinea = [141,-2.6,145,-4.5,147.8,-6,148,-8,150.7,-10.5,147,-9.7,144,-7.7,143,-9.2,141,-9.1];
const newBritain = [148.3,-5.6,152,-4.2,152.2,-5.3,150,-6.3];
const newIreland = [150.8,-2.6,153,-4.4,152.8,-4.7,150.8,-2.9];
const timor = [123.5,-10.3,127.2,-8.4,125,-8.9];
const flores = [119.9,-8.4,123,-8.2,122.8,-8.8,120,-8.9];
const sumba = [119,-9.5,120.8,-10,119.9,-9.3];
const sumbawa = [116,-8.5,119,-8.2,118.8,-8.8,116.8,-9.1];
const halmahera = [127.5,2.2,128.7,1.3,128,-0.7,127.6,0.8];
const seram = [127.9,-3,130.8,-3.4,129.5,-3.5];
const luzon = [120.5,18.5,122.2,18.4,122,16,124,13,121,13.7,120,15.5];
const mindanao = [122,7,123.5,8.7,125.5,9.7,126.5,7.5,125.5,5.7,124,6.8];
const visayas = [122,11.8,125.3,12.5,125.6,10.2,123.3,9.2,122.4,10];
const palawan = [117.3,8.3,119.5,11.3,119.7,10.7,117.6,8.3];
const taiwan = [121,25.2,122,25,121,22,120.2,23];
const honshu = [130.9,34,132.5,35.5,136,35.7,137,37.4,139,38.2,140,40.5,141.3,41.4,142,39.5,141,38,140.8,35.7,138.8,34.8,137,34.6,135.7,33.5,135,34.6,132.5,34.2];
const kyushu = [130,33.5,131,33.9,132,33,131.2,31.3,130.3,31.3];
const shikoku = [132.5,33.8,134.5,34.2,134.2,33.3,133,32.8,132.4,33.3];
const hokkaido = [140,41.5,140.5,43.2,141.7,45.4,145.2,43.4,143,42,141,42.5];
const northKorea = [124.4,40,126.9,41.8,130.7,42.3,129.7,41,127.5,39.7,128.3,38.6,126.7,37.8,125,38,125.3,39.5];
const southKorea = [126.7,37.8,128.3,38.6,129.4,37,129.2,35.2,126.4,34.4,126.4,37];
const australia = [113.5,-26,114,-22,117,-20.7,122,-18,125,-15.5,127,-14,129.5,-15,130.8,-12.3,136.5,-12,135.7,-15,139,-17.5,141.5,-15,142.5,-10.7,145.2,-15,146,-19,149.5,-22,153,-25.5,153.6,-28.5,152.5,-32.5,150,-37.5,147,-38,144,-38,140,-38,138,-35.5,135.5,-34.8,134,-32.5,131,-31.5,126,-32.3,124,-33,120,-34,115,-34.4,115.7,-31.5];
const newZealand = [172.7,-34.4,174.5,-36,178.5,-37.7,177,-39.5,175,-41.6,174,-39.3];
const newCaledonia = [164,-20.2,167,-22.3,166.6,-22.3,164.2,-20.6];
const solomons = [157,-8,160,-9.5,160.5,-9.9,157.5,-8.4];
const morocco = [-5.9,35.8,-2.2,35.1,-1.2,32.5,-3.7,30.7,-8.7,28.7,-13.2,27.7,-9.8,29.8,-9.6,31.5,-6.8,34];
const westSahara = [-13.2,27.7,-8.7,27.7,-8.7,26,-12,26,-12,23.4,-13,23,-13,21.3,-17,21.3,-16,23.7,-14.5,26];
const algeria = [-2.2,35.1,-1.2,32.5,-3.7,30.7,-8.7,28.7,-8.7,27.2,-5,25,3.3,19,5.8,19.4,12,23.5,9.8,26.5,9.5,30,8,32,8.6,36.9,3,36.9];
const tunisia = [8.6,36.9,11,37,10.5,34,11.5,33.2,9.5,30,8,32];
const libya = [11.5,33.2,15,32.3,20,30.9,20,32.7,25,31.6,25,20,24,19.5,24,20,16,23.5,15,23,12,23.5,9.8,26.5,9.5,30];
const egypt = [25,31.6,29,31,32.3,31.3,34.3,31.3,35,29.5,34,28,33.5,28,35.5,24,36.9,22,25,22];
const sudan = [24,20,24,22,25,22,36.9,22,37.5,18.5,38.5,18,36.5,14.3,36,12.5,34.2,10.5,33,12,32,12,27,12,24,8.7,23,11,22.5,13,24,16];
const chad = [14,13,15.5,16.5,15,23,16,23.5,24,19.5,24,16,22.5,13,23,11,18,9,15.5,7.5,15,10,14,12.9];
const mali = [-12.2,15,-5.5,15.5,-6.5,25,-5,25,3.3,19,4.2,16,3.5,15.3,0,15,-3.5,13.4,-5,11,-7.8,10.3,-8.5,11.5,-11.4,12.4];
const mauritania = [-17,21.3,-13,21.3,-13,23,-12,23.4,-12,26,-8.7,26,-8.7,27.2,-5,25,-6.5,25,-5.5,15.5,-12.2,15,-14,16.5,-16.5,16.1,-16.2,19];
const niger = [3.5,15.3,4.2,16,3.3,19,5.8,19.4,12,23.5,15,23,15.5,16.5,14,13,13.5,13.7,8,13,3.7,11.7,2.4,12];
const senegal = [-16.5,16.1,-14,16.5,-12.2,15,-11.4,12.4,-16.8,12.4,-17.5,14.7];
const bissau = [-16.8,12.4,-13.7,12.7,-15,11];
const guinea = [-13.7,12.7,-11.4,12.4,-8.5,11.5,-7.8,10.3,-8.3,7.6,-10.7,9.3,-13.3,9,-15,11];
const sierraLeone = [-13.3,9,-10.7,9.3,-10.5,8.3,-11.5,7,-13,7.8];
const liberia = [-11.5,7,-10.7,8.3,-8.3,7.6,-7.5,4.4,-9,5];
const ivoryCoast = [-8.3,7.6,-7.8,10.3,-5,10.5,-2.8,9.6,-3,5.1,-7.5,4.4];
const ghana = [-2.8,11,0,11,0.5,6,1.2,6,-2,4.7,-3,5.1,-2.8,9.6];
const togo = [0,11,0.9,11,1.6,6.2,1.2,6,0.5,6];
const benin = [0.9,11,3.6,11.7,2.7,6.4,1.6,6.2];
const burkina = [-5,10.5,-2.8,9.6,-2.8,11,0,11,2.4,12,0,15,-3.5,13.4,-5,11];
const nigeria = [2.7,6.4,3.7,11.7,8,13,13.5,13.7,14.2,11.5,13.2,9,11.7,7,8.7,4.5,5.5,4.5,4.4,6.3];
const cameroon = [8.7,4.5,11.7,7,13.2,9,14.2,11.5,14,12.9,15,10,15.5,7.5,14.5,5,16,2,13.3,2.2,9.8,2.3,9.8,3.9];
const centralAfrica = [15.5,7.5,18,9,23,11,24,8.7,27.4,5,24,5,22.5,4.2,19,4,16,2,14.5,5];
const southSudan = [24,8.7,27,12,32,12,33,12,34.2,10.5,34,8,35.5,5,34,4,31,3.7,27.4,5];
const ethiopia = [36,12.5,36.5,14.3,38,14.5,40,14.5,42.5,12.5,42,11,43,11,48,8,44.5,4.9,41.8,4,39,3.5,35.8,5,34,8,34.2,10.5];
const eritrea = [36.5,14.3,37.5,18.5,38.5,18,43,12.5,42.4,12.5,40,14.5,38,14.5];
const djibouti = [42,11,42.4,12.7,43.4,11.6,43,11];
const somalia = [41,-1.5,41.8,4,44.5,4.9,48,8,43,11,51.2,11.9,49,6,46,2.5,42,-1];
const kenya = [34,4,35.8,5,39,3.5,41.8,4,41,-1.5,39.2,-4.7,34,-1,34,1];
const uganda = [31,3.7,34,4,34,1,34,-1,30,-1,29.7,1,30.9,2.4];
const tanzania = [30,-1,34,-1,39.2,-4.7,39.5,-7,40.4,-10.5,38,-11.3,35,-11.5,34.7,-9.5,32,-9,30,-6];
const rwandaBurundi = [29,-1.5,30.5,-1.1,30.5,-2.5,30,-4.5,29.2,-4.2];
const drCongo = [12.2,-6,12.9,-4.8,14,-4.4,16.2,-2,16.5,1,18,3.5,19,4,22.5,4.2,24,5,27.4,5,31,3.7,30.9,2.4,29.7,1,30,-1,29,-1.5,29.2,-4.2,30,-6,28.7,-8.5,28.3,-11.7,29.8,-12.1,29.5,-13.3,27.5,-12,24.2,-11,22,-11,21.8,-7.3,17.6,-8,16,-5.9];
const congo = [11.2,-4,12.9,-4.8,14,-4.4,16.2,-2,16.5,1,18,3.5,16,2,13.3,2.2,14.2,-2,11.8,-2.5];
const gabon = [8.8,-0.8,9.8,1,9.8,2.3,13.3,2.2,14.2,-2,11.8,-2.5,11.2,-4];
const angola = [12.2,-6,16,-5.9,17.6,-8,21.8,-7.3,22,-11,24.2,-11,22,-13,22,-16.2,23.4,-17.5,20,-18,14,-17.4,11.8,-17.3,13.8,-11,13,-8];
const zambia = [22,-13,24.2,-11,27.5,-12,29.5,-13.3,29.8,-12.1,28.3,-11.7,28.7,-8.5,32,-9,33.3,-11,33,-14,30.2,-15,28,-16.5,25.3,-17.8,23.4,-17.5,22,-16.2];
const malawi = [33,-9.5,34.7,-9.5,34.8,-12,35.8,-14.5,35,-17,33,-14,33.3,-11];
const mozambique = [35,-11.5,38,-11.3,40.4,-10.5,40.7,-15,35.5,-20,35.5,-24,32.9,-26,32,-26,32.5,-22.3,33,-19,30.2,-15,33,-14,35,-17,35.8,-14.5,34.8,-12];
const zimbabwe = [25.3,-17.8,28,-16.5,30.2,-15,33,-19,32.5,-22.3,29.4,-22.2,27.5,-20.8];
const botswana = [20,-18,23.4,-17.5,25.3,-17.8,27.5,-20.8,29.4,-22.2,26,-24.8,25,-25.7,23,-25.3,20,-24.8,20,-22,21,-22,21,-18.4];
const namibia = [11.8,-17.3,14,-17.4,20,-18,23.4,-17.5,21,-18.4,21,-22,20,-22,20,-28.4,17,-28.7,15,-27,14.4,-22];
const southAfrica = [17,-28.7,20,-28.4,20,-24.8,23,-25.3,25,-25.7,26,-24.8,29.4,-22.2,31.5,-22.3,32,-26,32.9,-26.9,32.5,-28.5,30,-31.5,25.7,-34,20,-34.8,18.4,-34.2,18,-32];
const lesotho = [27.1,-29.6,28.7,-28.6,29.4,-29.5,28,-30.6];
const eswatini = [31,-25.8,32,-26,32,-27,31,-27];
const madagascar = [49.3,-12,50.5,-15.5,47.5,-24.5,45,-25.5,43.3,-22,44.2,-20,44.5,-16.2,46.5,-15.7];

// which outlines fall in which class, coast in own colour or with a grey edge
const over075Coast = [canadaMain, baffin, bylot, princeCharles, victoria, banks, melville, byam, bathurst, cornwallis, devon, princeWales, somerset, southampton, coats, newfoundland, vancouverIs, haida, anticosti, britain, ulster];
const over075Edged = [germany, slovakia];
const from045Coast = [lower48, alaska, aleutians, kodiak, stLawrence, nunivak, hawaii, iceland, shetland];
const from045Edged = [belgium, croatia];
const from025 = [france, corsica, czechia, bulgaria, slovenia, frenchGuiana, honshu, kyushu, shikoku, hokkaido];
const from015 = [spain, mallorca, portugal, italy, sicily, sardinia, romania, greece, crete];
const from005 = [ireland, austria, australia, southKorea, cyprus];
const under005 = [china, hainan, india, turkey, hungary, switzerland];
const topCoast = [norway, sweden, gotland, finland, jutland, zealand, funen, estonia, saaremaa, latvia, lithuania];
const topEdged = [netherlands, poland];
const noFigures = [greenland, russia, chukotka, kaliningrad, sakhalin, novayaZemlya, kotelny, faddeyev, lyakhov, mexico, guatemala, belize, honduras, salvador, nicaragua, costaRica, panama, cuba, haiti, dominicana, jamaica, puertoRico, colombia, venezuela, guyana, suriname, ecuador, peru, brazil, bolivia, paraguay, uruguay, chile, argentina, moldova, belarus, bosnia, serbia, montenegro, albania, macedonia, kazakhstan, uzbekistan, turkmenistan, kyrgyzstan, tajikistan, afghanistan, pakistan, iran, iraq, syria, israel, jordan, lebanon, saudi, yemen, oman, emirates, kuwait, qatar, georgiaState, azerbaijan, armenia, mongolia, nepal, bangladesh, bhutan, sriLanka, myanmar, thailand, laos, vietnam, cambodia, malaya, sabah, kalimantan, sumatra, java, sulawesi, papuaWest, papuaNewGuinea, newBritain, newIreland, timor, flores, sumba, sumbawa, halmahera, seram, luzon, mindanao, visayas, palawan, taiwan, northKorea, newZealand, newCaledonia, solomons, morocco, westSahara, algeria, tunisia, libya, egypt, sudan, chad, mali, mauritania, niger, senegal, bissau, guinea, sierraLeone, liberia, ivoryCoast, ghana, togo, benin, burkina, nigeria, cameroon, centralAfrica, southSudan, ethiopia, eritrea, djibouti, somalia, kenya, uganda, tanzania, rwandaBurundi, drCongo, congo, gabon, angola, zambia, malawi, mozambique, zimbabwe, botswana, namibia, southAfrica, lesotho, eswatini, madagascar];

// borders inside the dark blocks
const borderCanadaUsa = [-123,49,-95.2,49,-89.6,48,-88.4,48.3,-84.8,46.5,-82.5,45.3,-82.5,43,-83,42,-79,42.9,-79,43.5,-76.5,44,-74.7,45,-70.9,45.3,-69.2,47.4,-67.8,47.1,-67,45.1];
const borderAlaska = [-141.3,69.5,-141,60.3,-139,60,-137.5,58.9,-135.5,59.8,-132,57,-130,55.9];
const borderNorway = [11.2,59,12.2,61,12,63.5,13.5,64.5,14,65.2,16,67,18,68.5,20.5,69.1,21,69.1,25.7,69.2,28.5,69.1,28.9,69];
const borderFinland = [20.5,69.1,23.7,67.9,23.9,66];
const borderBaltic1 = [24.4,58.3,25,57.9,27.5,57.6];
const borderBaltic2 = [21,56,22,56.4,24.9,56.4,26.6,55.7];
const innerBorders = [borderCanadaUsa, borderAlaska, borderNorway, borderFinland, borderBaltic1, borderBaltic2];

// tiny islands, too small for an outline
const islandsGrey = [-7,62,-16.5,28.3,-15.5,28,-14,28.5,-17.8,28.7,-17,32.7,-25.5,37.8,-28,38.5,-24,16,-23.5,15.1,-25,17,6.6,0.2,8.7,3.5,43.3,-11.7,44.4,-12.2,55.5,-4.6,57.5,-20.3,-91,-0.7,-90.4,-0.6,73.5,4,92.8,12,92.7,11.5,93.8,7.5,-77.5,25,-78,24.5,-76,24,-74,23,-73.5,21,-61.3,13.2,-61,10.5,145,15,145.7,16,145,14,144.7,13.4,171,7,168,9,173,1,167,-15.5,167.5,-16.5,168.3,-17.8,178,-17.6,179,-16.6,-172,-13.7,146,44,148,45.3,150,46.2,152,47.5,154,48.8,155.5,50,156,50.7,127.7,26.2,129.5,28.3,25.5,37,26.5,39,28,36.3,14.4,35.9,133,29.5,158,6.9,151,7.4,138,9.5,134.5,7.5];
const islandsBlue = [-61.5,16.2,-61,14.6,55.5,-21.1,-158,21.5,-156.3,20.8,-159.5,22,-6.5,57.5,-7.3,57,-8.5,71,19,74.4];

const lonMin = -180.6, lonMax = 179.95;
const mercTop = 2.077, mercBottom = -0.692;

const merc = lat => Math.log(Math.tan(Math.PI / 4 + lat * Math.PI / 360));

function toPoints(flat, closed) {
  const pts = [];
  for (let i = 0; i < flat.length; i += 2) pts.push({ x: flat[i], y: merc(flat[i + 1]) });
  if (closed) pts.push(pts[0]);
  return pts;
}

const datasets = [];

innerBorders.forEach(line => {
  datasets.push({ data: toPoints(line, false), showLine: true, fill: false, borderColor: "#a9b2c6", borderWidth: 1, pointRadius: 0 });
});

datasets.push({ data: toPoints(islandsBlue, false), backgroundColor: "#4268c2", pointRadius: 1.2, borderWidth: 0 });
datasets.push({ data: toPoints(islandsGrey, false), backgroundColor: "#c4c4c4", pointRadius: 0.9, borderWidth: 0 });

function addShapes(list, fill, edge) {
  list.forEach(shape => {
    datasets.push({
      data: toPoints(shape, true),
      showLine: true,
      fill: "shape",
      backgroundColor: fill,
      borderColor: edge,
      borderWidth: 1,
      borderJoinStyle: "round",
      pointRadius: 0
    });
  });
}

// first in the list is painted last
addShapes(topEdged, topShade, edgeGrey);
addShapes(topCoast, topShade, topShade);
addShapes(over075Edged, binColors[0], edgeGrey);
addShapes(over075Coast, binColors[0], binColors[0]);
addShapes(from045Edged, binColors[1], edgeGrey);
addShapes(from045Coast, binColors[1], binColors[1]);
addShapes(from025, binColors[2], edgeGrey);
addShapes(from015, binColors[3], edgeGrey);
addShapes(from005, binColors[4], edgeGrey);
addShapes([ukraine], ukraineShade, "#d9b29c");
addShapes(under005, binColors[5], edgeGrey);
addShapes(noFigures, landShade, edgeGrey);

new Chart(document.getElementById("map"), {
  type: "scatter",
  data: { datasets },
  options: {
    responsive: false,
    animation: false,
    events: [],
    layout: { padding: { top: 122, bottom: 43, left: 0, right: 0 } },
    scales: {
      x: { type: "linear", display: false, min: lonMin, max: lonMax },
      y: { type: "linear", display: false, min: mercBottom, max: mercTop }
    },
    plugins: { legend: { display: false }, tooltip: { enabled: false } }
  }
});

const legendBox = document.getElementById("legend");
binLabels.forEach((label, i) => {
  const top = 656 + i * 36;
  const swatch = document.createElement("div");
  swatch.className = "swatch";
  swatch.style.cssText = `left:27px;top:${top}px;background:${binColors[i]}`;
  const text = document.createElement("div");
  text.textContent = label;
  text.style.cssText = `left:83px;top:${top - 1}px;font-size:28.5px;line-height:32px`;
  legendBox.appendChild(swatch);
  legendBox.appendChild(text);
});
</script>
</body>
</html>
